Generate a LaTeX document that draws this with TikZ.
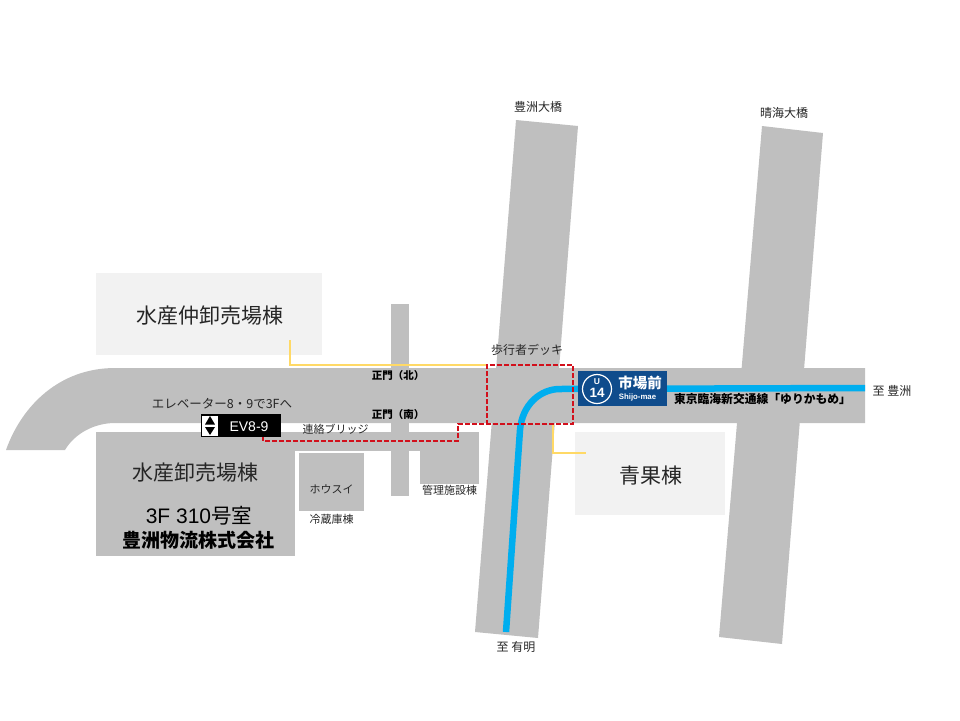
\documentclass[tikz,border=0pt]{standalone}
\usepackage{fontspec}
\setmainfont{Noto Sans CJK JP}
\newfontfamily\latn{Liberation Sans}
\definecolor{road}{HTML}{BFBFBF}
\definecolor{pale}{HTML}{F2F2F2}
\definecolor{ylw}{HTML}{FFD966}
\definecolor{rd}{HTML}{D2101C}
\definecolor{blu}{HTML}{00AEEF}
\definecolor{navy}{HTML}{0F4C8C}
\definecolor{ink}{HTML}{262626}
\tikzset{
  x=1pt,y=-1pt,
  roadshape/.style={fill=road,draw=none},
  palebox/.style={fill=pale,draw=none},
  lbl/.style={inner sep=0pt,text=ink,font=\fontsize{11}{13}\selectfont},
  lblm/.style={inner sep=0pt,text=ink,font=\fontsize{12}{14}\selectfont},
  big/.style={inner sep=0pt,text=ink,font=\fontsize{21}{24}\selectfont},
  leader/.style={draw=ylw,line width=1.5pt},
  route/.style={draw=rd,line width=2.2pt,dash pattern=on 5pt off 2pt},
  rail/.style={draw=blu,line width=6.5pt}
}
\begin{document}
\begin{tikzpicture}
\useasboundingbox (0,0) rectangle (960,720);
% roads
\fill[roadshape] (516,120) -- (578,126) -- (538,638) -- (475,632) -- cycle;
\fill[roadshape] (762,126) -- (823,133) -- (782,644) -- (719,637) -- cycle;
\fill[roadshape] (391,304) rectangle (409,496);
\fill[roadshape] (865,368) -- (115,368) .. controls (60,368) and (22,405) .. (6,450) -- (65,450) .. controls (75,433) and (95,423) .. (115,423) -- (865,423) -- cycle;
\fill[roadshape] (295,432) rectangle (479,451);
\fill[roadshape] (96,432) rectangle (295,556);
\fill[roadshape] (299,453) rectangle (364,511);
\fill[roadshape] (420,432) rectangle (479,484);
% pale buildings
\node[palebox,minimum width=226pt,minimum height=82pt,inner sep=0pt] (nakaoroshi) at (209,314) {};
\node[palebox,minimum width=150pt,minimum height=83pt,inner sep=0pt] (seika) at (650,473.5) {};
\node[big] at (209.5,316) {水産仲卸売場棟};
\node[big] at (650.5,476) {青果棟};
% leaders
\coordinate (la) at (290,340); \coordinate (lb) at (290,365); \coordinate (lc) at (487,365);
\draw[leader] (la) -- (lb) -- (lc);
\coordinate (ld) at (553,423); \coordinate (le) at (553,453); \coordinate (lf) at (586,453);
\draw[leader] (ld) -- (le) -- (lf);
% rail
\coordinate (r0) at (506,632); \coordinate (r1) at (520,430); \coordinate (r2) at (560,389);
\coordinate (r3) at (865,388);
\draw[rail] (r0) -- (r1) .. controls (522,405) and (540,389) .. (r2) -- (r3);
% route
\coordinate (p0) at (263,436); \coordinate (p1) at (263,441); \coordinate (p2) at (458,441);
\coordinate (p3) at (458,424); \coordinate (p4) at (487,424); \coordinate (p5) at (487,365);
\coordinate (p6) at (573,365); \coordinate (p7) at (573,424);
\draw[route] (p0) -- (p1) -- (p2) -- (p3) -- (p4) -- (p5) -- (p6) -- (p7) -- (p4);
% station sign
\node[fill=navy,minimum width=89pt,minimum height=35pt,inner sep=0pt] (sign) at (622.5,388.5) {};
\node[draw=white,line width=1.2pt,circle,minimum size=29pt,inner sep=0pt] (uc) at (597,389) {};
\node[inner sep=0pt,text=white,font=\latn\fontsize{8.5}{9}\selectfont\bfseries] at (597,381.5) {U};
\node[inner sep=0pt,text=white,font=\latn\fontsize{13.5}{14}\selectfont\bfseries] at (597,392.5) {14};
\node[inner sep=0pt,text=white,font=\fontsize{14.5}{16}\selectfont\bfseries] at (640,383) {市場前};
\node[inner sep=0pt,text=white,font=\latn\fontsize{7.8}{9}\selectfont\bfseries] at (637.5,397.5) {Shijo-mae};
% EV
\node[fill=black,draw=black,minimum width=79pt,minimum height=22pt,inner sep=0pt] (ev) at (241,425.5) {};
\node[fill=white,minimum width=16pt,minimum height=20pt,inner sep=0pt] (evw) at (210,425.5) {};
\fill[black] (210,416) -- (215,424.5) -- (205,424.5) -- cycle;
\fill[black] (210,435) -- (215,427) -- (205,427) -- cycle;
\node[inner sep=0pt,text=white,font=\latn\fontsize{14}{16}\selectfont] at (249,426.5) {EV8-9};
% labels
\node[lblm,font=\fontsize{12.5}{14}\selectfont] at (222,404) {エレベーター8・9で3Fへ};
\node[lbl] at (335.5,429) {連絡ブリッジ};
\node[inner sep=0pt,text=black,font=\fontsize{10.5}{12}\selectfont\bfseries] at (398,375.5) {正門（北）};
\node[inner sep=0pt,text=black,font=\fontsize{10.5}{12}\selectfont\bfseries] at (398,415) {正門（南）};
\node[lblm] at (527,350) {歩行者デッキ};
\node[lblm] at (538,107) {豊洲大橋};
\node[lblm] at (784,113) {晴海大橋};
\node[lblm] at (892,391) {至 豊洲};
\node[lblm] at (516,647) {至 有明};
\node[lbl] at (331.5,489) {ホウスイ};
\node[lbl] at (331.5,519.5) {冷蔵庫棟};
\node[lbl] at (449.5,490) {管理施設棟};
\node[inner sep=0pt,text=black,font=\fontsize{11.8}{14}\selectfont\bfseries] at (762.5,399) {東京臨海新交通線「ゆりかもめ」};
\node[big] at (195,472.5) {水産卸売場棟};
\node[big,text=black,font=\fontsize{20.5}{24}\selectfont] at (199,516) {{\latn\fontsize{21}{24}\selectfont 3F 310}号室};
\node[big,text=black,font=\fontsize{19}{22}\selectfont\bfseries] at (198,540) {豊洲物流株式会社};
\end{tikzpicture}
\end{document}
